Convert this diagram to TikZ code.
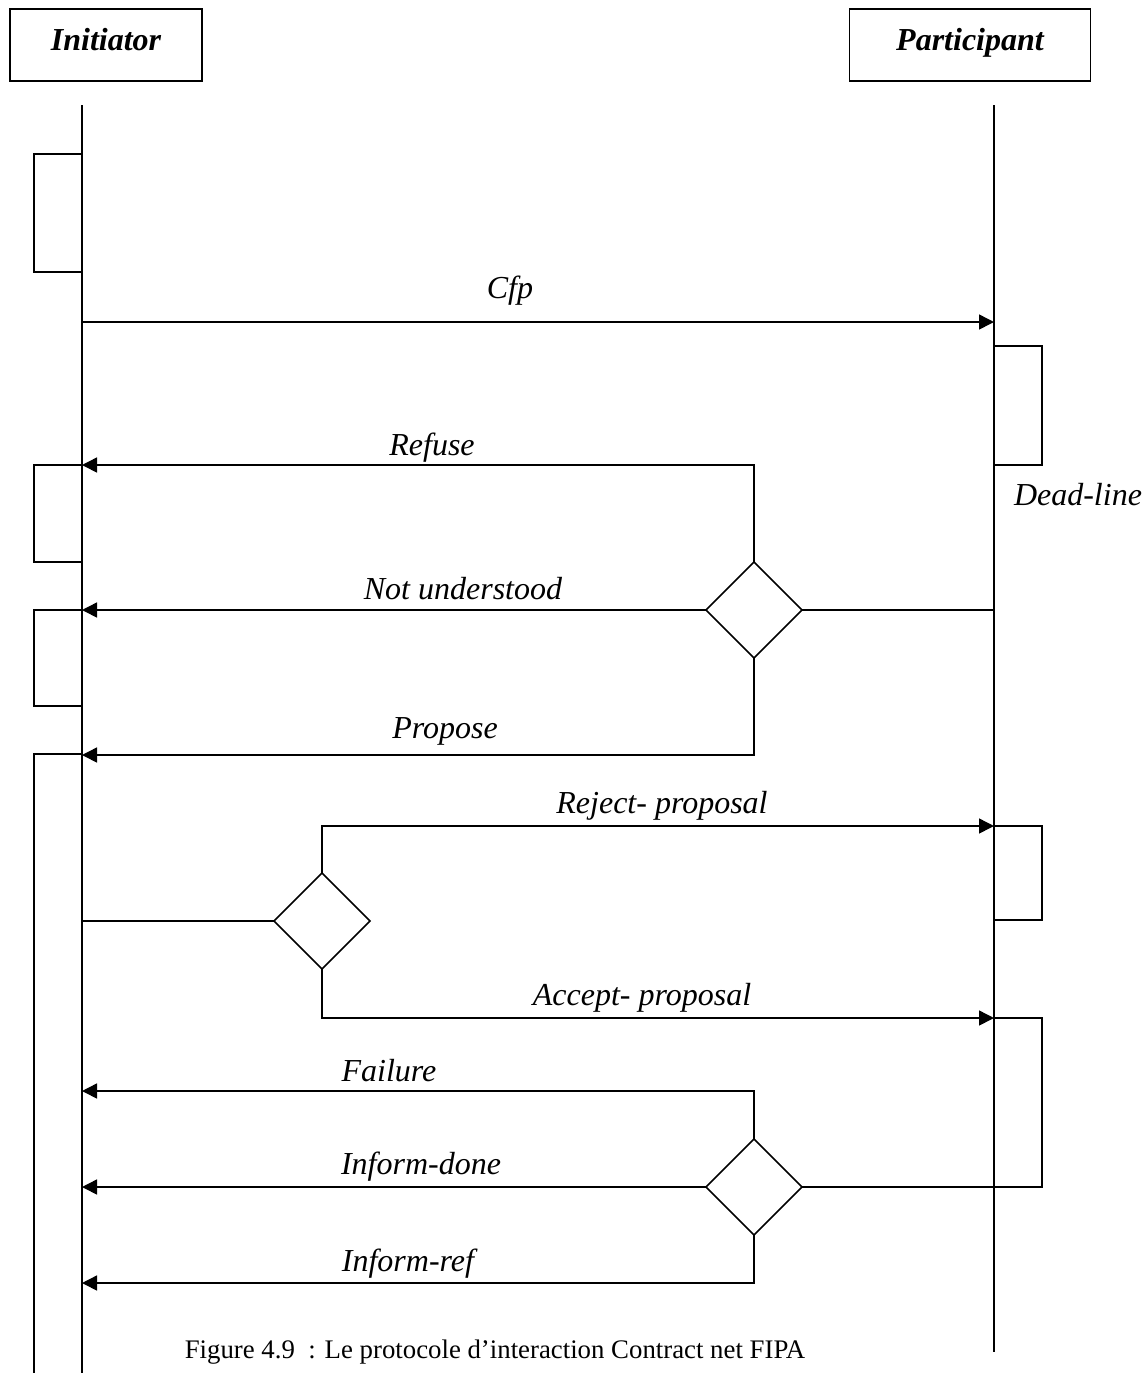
\documentclass[tikz,border=0pt]{standalone}
\usepackage{fontspec}
\setmainfont{Liberation Serif}
\usetikzlibrary{shapes.geometric,arrows.meta}
\begin{document}
\begin{tikzpicture}[x=0.5pt,y=-0.5pt,line width=0.75pt,
  msg/.style={-{Triangle[length=7.5pt,width=7.5pt]}},
  lbl/.style={anchor=base,inner sep=0pt,font=\fontsize{16}{19}\selectfont\itshape},
  choice/.style={draw,diamond,minimum width=48pt,minimum height=48pt,inner sep=0pt,outer sep=0pt,fill=white},
  actor/.style={draw,minimum height=36pt,inner sep=0pt,outer sep=0pt,text height=11.5pt,text depth=6.5pt,font=\fontsize{16}{19}\selectfont\bfseries\itshape}]
  \useasboundingbox (0,0) rectangle (1146,1373);
  \node[actor,minimum width=96pt] (ini) at (106,45) {Initiator};
  \node[actor,minimum width=120.5pt] (par) at (970,45) {Participant};
  \coordinate (ini top) at (82,105);
  \coordinate (ini bot) at (82,1373);
  \coordinate (par top) at (994,105);
  \coordinate (par bot) at (994,1352);
  \draw (ini top) -- (ini bot);
  \draw (par top) -- (par bot);
  \foreach \name/\yy in {cfp/322,refuse/465,notund/610,propose/755,main/921,failure/1091,done/1187,iref/1283} {
    \coordinate (i-\name) at (82,\yy);
  }
  \foreach \name/\yy in {cfp/322,split/610,reject/826,accept/1018} {
    \coordinate (p-\name) at (994,\yy);
  }
  \foreach \top/\bot in {154/272,465/562,610/706} {
    \draw (82,\top) -- (34,\top) -- (34,\bot) -- (82,\bot);
  }
  \draw (82,754) -- (34,754) -- (34,1373);
  \foreach \top/\bot in {346/465,826/920} {
    \draw (994,\top) -- (1042,\top) -- (1042,\bot) -- (994,\bot);
  }
  \node[choice] (d1) at (754,610) {};
  \node[choice] (d2) at (322,921) {};
  \node[choice] (d3) at (754,1187) {};
  \draw[msg] (i-cfp) -- (p-cfp);
  \draw (p-split) -- (d1.east);
  \draw[msg] (d1.north) |- (i-refuse);
  \draw[msg] (d1.west) -- (i-notund);
  \draw[msg] (d1.south) |- (i-propose);
  \draw (i-main) -- (d2.west);
  \draw[msg] (d2.north) |- (p-reject);
  \draw[msg] (d2.south) |- (p-accept);
  \draw (p-accept) -- ++(48,0) |- (d3.east);
  \draw[msg] (d3.north) |- (i-failure);
  \draw[msg] (d3.west) -- (i-done);
  \draw[msg] (d3.south) |- (i-iref);
  \node[lbl] (l-cfp) at (510,298) {Cfp};
  \node[lbl] (l-dead) at (1078,505) {Dead-line};
  \node[lbl] (l-refuse) at (432,455) {Refuse};
  \node[lbl] (l-notund) at (463,599) {Not understood};
  \node[lbl] (l-propose) at (445,738) {Propose};
  \node[lbl] (l-reject) at (662,813) {Reject- proposal};
  \node[lbl] (l-accept) at (642,1005) {Accept- proposal};
  \node[lbl] (l-failure) at (389,1081) {Failure};
  \node[lbl] (l-done) at (421,1174) {Inform-done};
  \node[lbl] (l-iref) at (408,1271) {Inform-ref};
  \node[anchor=base,inner sep=0pt,font=\fontsize{13.4}{16}\selectfont] (caption) at (495,1358) {Figure 4.9~~: Le protocole d’interaction Contract net FIPA};
\end{tikzpicture}
\end{document}
